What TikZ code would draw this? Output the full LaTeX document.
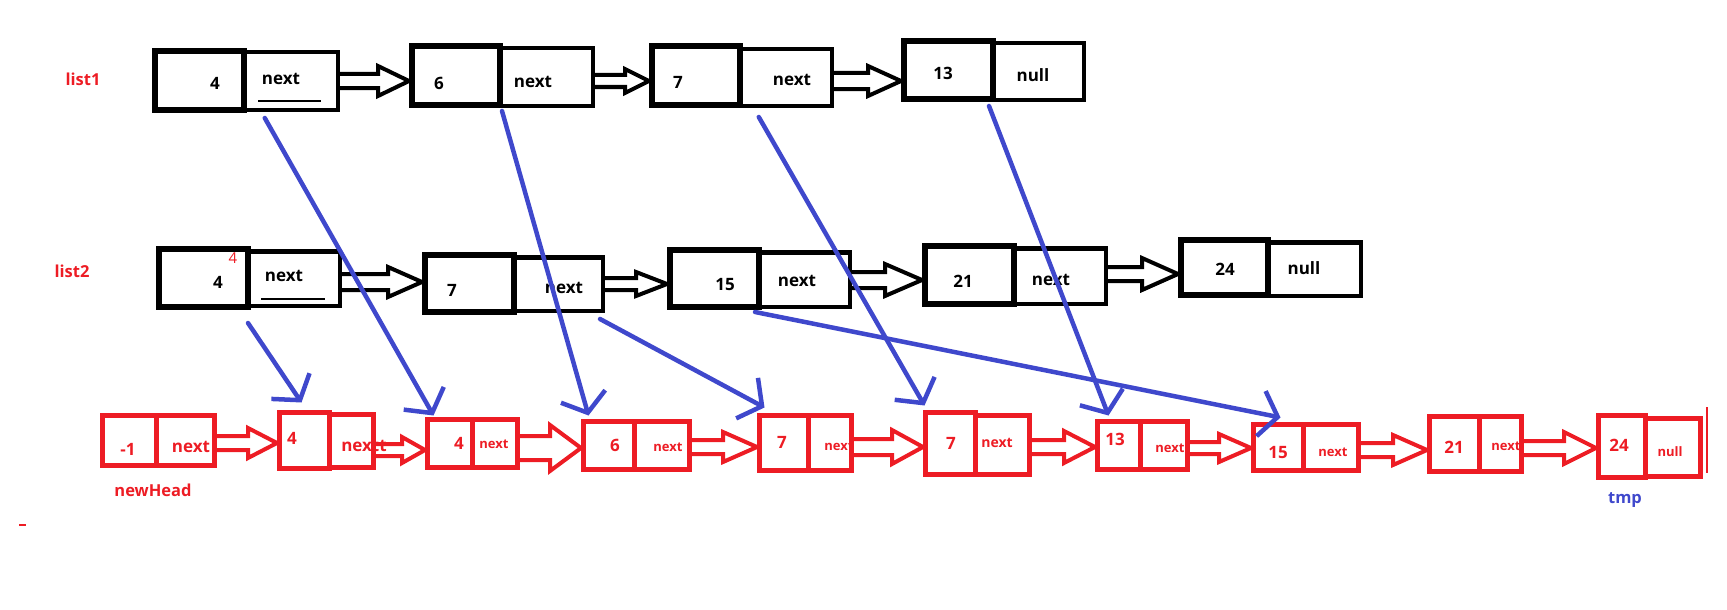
\documentclass[tikz,border=0pt]{standalone}
\usepackage{fontspec}
\setmainfont{Open Sans}
\usetikzlibrary{arrows.meta,calc}
\definecolor{paintred}{RGB}{237,28,36}
\definecolor{paintblue}{RGB}{63,72,204}

\tikzset{
  valcell/.style={draw, line width=6pt, inner sep=0pt},
  nextcell/.style={draw, line width=4.5pt, inner sep=0pt},
  redcell/.style={draw=paintred, line width=5pt, inner sep=0pt},
  cellfont/.style={inner sep=0pt, font=\fontsize{17}{17}\selectfont\bfseries},
  listlabel/.style={inner sep=0pt, text=paintred, font=\fontsize{16.5}{16.5}\selectfont\bfseries},
  fatarrow/.style={line width=4pt},
  merge/.style={draw=paintblue, line width=4.5pt, line cap=round,
    -{Straight Barb[length=17pt,width=46pt]}},
}

\begin{document}
\begin{tikzpicture}[x=1pt,y=-1pt]
  \useasboundingbox (0,0) rectangle (1727,610);

  % list1 and list2 (black)
  \foreach \nm/\xa/\xb/\ya/\yb/\txt/\tx/\ty in {
      l1n1/247/340/50/112/next/281/79, l1n2/503/595/46/108/next/533/82,
      l1n3/743/834/47/108/next/792/80, l1n4/996/1086/41/102/null/1033/75,
      l2n1/251/342/249/308/next/284/276, l2n2/517/605/255/313/next/564/288,
      l2n3/762/852/250/309/next/797/281, l2n4/1017/1108/246/306/next/1051/280,
      l2n5/1271/1363/240/298/null/1304/268}
  {
    \node[nextcell, minimum width={\xb-\xa+0.75}, minimum height={\yb-\ya-4.5}]
      (\nm) at ({(\xa+\xb)/2-2.6},{(\ya+\yb)/2}) {};
    \node[cellfont] (t\nm) at (\tx,\ty) {\txt};
  }
  \foreach \nm/\xa/\xb/\ya/\yb/\txt/\tx/\ty in {
      l1v1/152/247/48/113/4/215/83, l1v2/409/503/43/108/6/439/83,
      l1v3/649/743/43/108/7/678/82, l1v4/901/996/38/102/13/943/73,
      l2v1/156/251/246/310/4/218/282, l2v2/422/517/252/315/7/452/290,
      l2v3/667/762/247/310/15/725/285, l2v4/922/1017/243/307/21/963/281,
      l2v5/1178/1271/237/298/24/1225/269}
  {
    \node[valcell, minimum width={\xb-\xa-6}, minimum height={\yb-\ya-6}]
      (\nm) at ({(\xa+\xb)/2},{(\ya+\yb)/2}) {};
    \node[cellfont] (t\nm) at (\tx,\ty) {\txt};
  }
  \draw[line width=1.5pt] (258,101) -- (321,101);
  \draw[line width=1.5pt] (261,299) -- (325,299);
  \node[inner sep=0pt, text=paintred, font=\fontsize{15}{15}\selectfont] (mark4) at (233,258) {4};

  % merged list (red)
  \foreach \nm/\xa/\xb/\ya/\yb/\txt/\tx/\ty/\fs in {
      r1n/159/217/413/468/next/191/447/17, r2n/332/376/412/470/nextt/364/446/17,
      r3n/475/520/417/470/next/494/444/13, r4n/637/692/419/472/next/668/447/13,
      r5n/811/854/413/473/next/839/446/13, r6n/978/1032/413/477/next/997/443/14,
      r7n/1143/1190/419/472/next/1170/448/13, r8n/1306/1361/422/473/next/1333/452/13,
      r9n/1482/1524/414/474/next/1506/446/13, r10n/1648/1703/416/479/null/1670/452/13}
  {
    \node[redcell, minimum width={\xb-\xa}, minimum height={\yb-\ya-5}]
      (\nm) at ({(\xa+\xb)/2-2.5},{(\ya+\yb)/2}) {};
    \node[inner sep=0pt, text=paintred, font=\fontsize{\fs}{\fs}\selectfont\bfseries]
      (t\nm) at (\tx,\ty) {\txt};
  }
  \foreach \nm/\xa/\xb/\ya/\yb/\txt/\tx/\ty in {
      r1v/100/159/413/468/-1/128/449, r2v/277/332/410/471/4/292/438,
      r3v/425/475/417/470/4/459/443, r4v/581/637/419/472/6/615/445,
      r5v/757/811/413/473/7/782/442, r6v/923/978/410/477/7/951/443,
      r7v/1095/1143/419/472/13/1115/439, r8v/1251/1306/422/473/15/1278/453,
      r9v/1427/1482/414/474/21/1454/447, r10v/1596/1648/413/480/24/1619/445}
  {
    \node[redcell, minimum width={\xb-\xa-5}, minimum height={\yb-\ya-5}]
      (\nm) at ({(\xa+\xb)/2},{(\ya+\yb)/2}) {};
    \node[cellfont, text=paintred] (t\nm) at (\tx,\ty) {\txt};
  }
  \draw[paintred, line width=2pt] (1707,407) -- (1707,473);
  \draw[paintred, line width=1.5pt] (19,525) -- (26,525);

  % hollow arrows
  \foreach \src/\dst/\dy/\sw/\hw/\hl in {
      l1n1/l1v2/0/7/15/31, l1n2/l1v3/4/6/12/24, l1n3/l1v4/3.5/8/15/33,
      l2n1/l2v2/3.5/8/15/34, l2n2/l2v3/0/6/12/31, l2n3/l2v4/0.5/8/16/37,
      l2n4/l2v5/-2/7/16/36}
    \draw[fatarrow] let \p1=($(\src.east)+(0,\dy)$), \p2=(\dst.west) in
      (\x1,\y1+\sw pt) -- (\x2-\hl pt,\y1+\sw pt) -- (\x2-\hl pt,\y1+\hw pt) -- (\x2,\y1)
      -- (\x2-\hl pt,\y1-\hw pt) -- (\x2-\hl pt,\y1-\sw pt) -- (\x1,\y1-\sw pt);
  \foreach \src/\dst/\dy/\sw/\hw/\hl in {
      r1n/r2v/2.5/7/15/29, r2n/r3v/9/6/13/23, r3n/r4v/4.5/12/23/31,
      r4n/r5v/1.5/7/15/34, r5n/r6v/4/8/17/31, r6n/r7v/2/7/16/31,
      r7n/r8v/2.5/6/14/32, r8n/r9v/2.5/7/15/34, r9n/r10v/4/7/16/32}
    \draw[fatarrow, paintred] let \p1=($(\src.east)+(0,\dy)$), \p2=(\dst.west) in
      (\x1,\y1+\sw pt) -- (\x2-\hl pt,\y1+\sw pt) -- (\x2-\hl pt,\y1+\hw pt) -- (\x2,\y1)
      -- (\x2-\hl pt,\y1-\hw pt) -- (\x2-\hl pt,\y1-\sw pt) -- (\x1,\y1-\sw pt);

  % labels
  \node[listlabel] (list1) at (83,79) {list1};
  \node[listlabel] (list2) at (72,271) {list2};
  \node[listlabel] (newHead) at (153,490) {newHead};
  \node[listlabel, text=paintblue] (tmp) at (1625,500) {tmp};

  % merge steps
  \draw[merge] ([xshift=23pt,yshift=-6pt]l1n1.south west) -- ([xshift=8.5pt,yshift=1.5pt]r3v.north west);
  \draw[merge] ([xshift=-1pt,yshift=-3pt]l1v2.south east) -- ([xshift=7.5pt,yshift=3.5pt]r4v.north west);
  \draw[merge] ([xshift=21pt,yshift=-9pt]l1n3.south west) -- ([xshift=1.5pt,yshift=4.5pt]r6v.north west);
  \draw[merge] ([xshift=-7pt,yshift=-4pt]l1v4.south east) -- ([xshift=13.5pt,yshift=3.5pt]r7v.north west);
  \draw[merge] ([xshift=-3pt,yshift=-13pt]l2v1.south east) -- ([xshift=24.5pt,yshift=7.5pt]r2v.north west);
  \draw[merge] ([xshift=-5pt,yshift=-6pt]l2n2.south east) -- ([xshift=7.5pt,yshift=5.5pt]r5v.north west);
  \draw[merge] ([xshift=-7pt,yshift=-2pt]l2v3.south east) -- ([xshift=29.5pt,yshift=4.5pt]r8v.north west);
\end{tikzpicture}
\end{document}
